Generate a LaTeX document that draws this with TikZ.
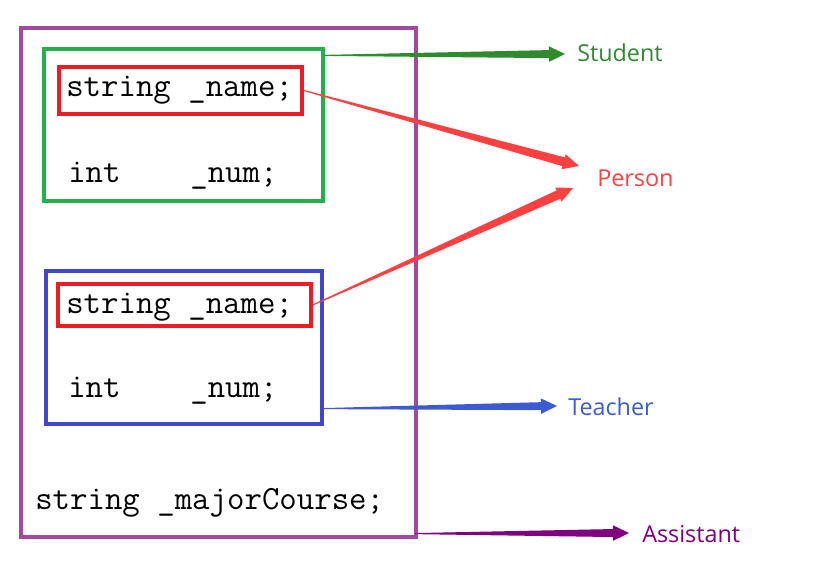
\documentclass[tikz,border=0pt]{standalone}
\usepackage{fontspec}
\setsansfont{Open Sans}
\usepackage{tikz}
\usetikzlibrary{calc}
\usetikzlibrary{fit}

\definecolor{boxpurple}{RGB}{163,73,164}
\definecolor{boxgreen}{RGB}{34,177,76}
\definecolor{boxred}{RGB}{237,28,36}
\definecolor{boxblue}{RGB}{63,72,204}
\definecolor{argreen}{RGB}{46,139,46}
\definecolor{arred}{RGB}{255,64,64}
\definecolor{arblue}{RGB}{60,90,210}
\definecolor{arpurple}{RGB}{128,0,128}

\tikzset{
    frame/.style={draw=#1, line width=2.4pt, inner sep=0pt},
    code/.style={font=\ttfamily\fontsize{25.4}{28}\selectfont, anchor=base west, inner sep=0pt},
    tag/.style={font=\sffamily\fontsize{17.5}{20}\selectfont, anchor=base west, inner sep=0pt, text=#1}}

% tapered arrow: colour, tail, tip, half width of the shaft at the head
\newcommand{\taperarrow}[4]{%
    \fill[#1] ($(#2)!0.4pt!90:(#3)$)
        -- ($(#3)!12pt!(#2)!#4!90:(#3)$)
        -- ($(#3)!12pt!(#2)!5.8pt!90:(#3)$)
        -- (#3)
        -- ($(#3)!12pt!(#2)!5.8pt!-90:(#3)$)
        -- ($(#3)!12pt!(#2)!#4!-90:(#3)$)
        -- ($(#2)!0.4pt!-90:(#3)$) -- cycle;}

\begin{document}
\begin{tikzpicture}[x=0.75pt, y=-0.75pt]
    \useasboundingbox (0,0) rectangle (818,574);

    \node[frame=boxpurple, fit={(21,28) (416,537)}] (pbox) {};
    \node[frame=boxgreen, fit={(44,49) (323,201)}] (gbox) {};
    \node[frame=boxblue, fit={(46,271) (322,424)}] (bbox) {};
    \node[frame=boxred, line width=2.6pt, fit={(59,67) (302,114)}] (rboxA) {};
    \node[frame=boxred, line width=2.6pt, fit={(58,284) (311,326)}] (rboxB) {};

    \node[code] (nameA) at (66,97) {string \_name;};
    \node[code] (numA) at (68,183) {int~~~~\_num;};
    \node[code] (nameB) at (66,313) {string \_name;};
    \node[code] (numB) at (68,397) {int~~~~\_num;};
    \node[code] (major) at (35,509) {string \_majorCourse;};

    \node[tag=argreen] (student) at (577,62) {Student};
    \node[tag=arred] (person) at (597,187) {Person};
    \node[tag=arblue] (teacher) at (568,415) {Teacher};
    \node[tag=arpurple] (assistant) at (642,542) {Assistant};

    \coordinate (gtail) at ([yshift=-6pt]gbox.north east);
    \coordinate (btail) at ([yshift=12.75pt]bbox.south east);
    \coordinate (ptail) at ([xshift=-2pt, yshift=3.75pt]pbox.south east);
    \coordinate (studentTip) at (565,54);
    \coordinate (personTipA) at (579,166);
    \coordinate (personTipB) at (573,188);
    \coordinate (teacherTip) at (557,406);
    \coordinate (assistantTip) at (629,533);

    \taperarrow{argreen}{gtail}{studentTip}{3pt}
    \taperarrow{arred}{rboxA.east}{personTipA}{3.4pt}
    \taperarrow{arred}{rboxB.east}{personTipB}{3.4pt}
    \taperarrow{arblue}{btail}{teacherTip}{3pt}
    \taperarrow{arpurple}{ptail}{assistantTip}{3pt}

\end{tikzpicture}
\end{document}
